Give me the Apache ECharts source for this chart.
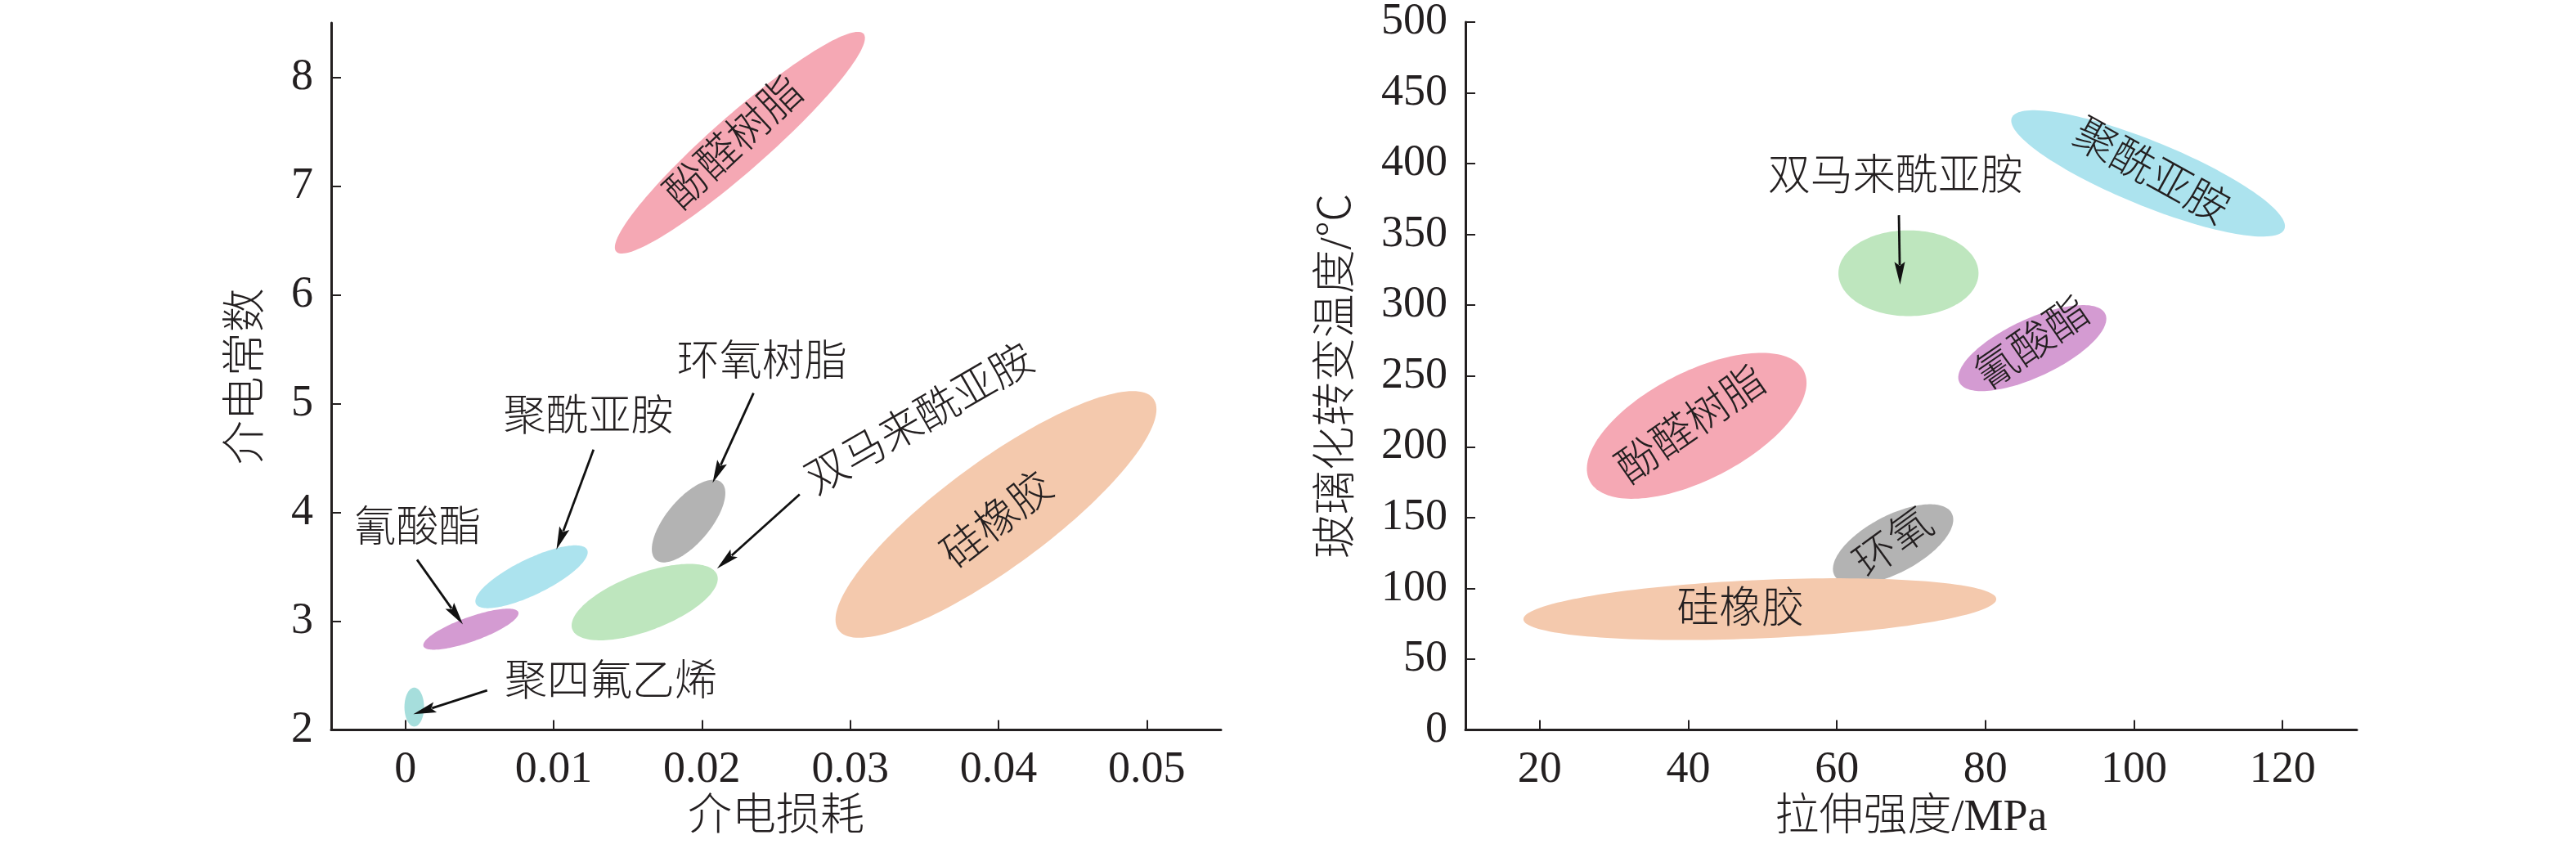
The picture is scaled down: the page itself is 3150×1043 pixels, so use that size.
<!DOCTYPE html>
<html>
<head>
<meta charset="utf-8">
<script src="https://cdn.jsdelivr.net/npm/echarts@6/dist/echarts.min.js"></script>
<style>
html,body{margin:0;padding:0;background:#fff;}
#chart{width:3150px;height:1043px;}
</style>
</head>
<body>
<div id="chart"></div>
<script>
// ---------- Left chart: dielectric loss (x) vs dielectric constant (y) ----------
const leftXTicks = [0, 0.01, 0.02, 0.03, 0.04, 0.05];
const leftYTicks = [2, 3, 4, 5, 6, 7, 8];
const leftNames   = ['酚醛树脂', '聚酰亚胺', '氰酸酯', '环氧树脂', '双马来酰亚胺', '聚四氟乙烯', '硅橡胶'];
// ellipse centre
const leftCenterX = [0.02256, 0.00851, 0.00442, 0.0191, 0.01614, 0.0006, 0.03983];
const leftCenterY = [7.399, 3.408, 2.926, 3.920, 3.175, 2.210, 3.981];
// end of major semi-axis
const leftMajorX  = [0.03090, 0.01226, 0.00762, 0.02130, 0.02102, 0.0006, 0.05044];
const leftMajorY  = [8.400, 3.656, 3.082, 4.277, 3.426, 2.389, 5.045];
// end of minor semi-axis
const leftMinorX  = [0.02132, 0.00798, 0.00415, 0.01796, 0.01546, -0.00006, 0.03770];
const leftMinorY  = [7.590, 3.556, 3.032, 4.051, 3.421, 2.210, 4.373];

// annotation labels (data coords)
const leftLabelText = ['酚醛树脂', '聚酰亚胺', '氰酸酯', '环氧树脂', '双马来酰亚胺', '聚四氟乙烯', '硅橡胶'];
const leftLabelX    = [0.02229, 0.01235, 0.00082, 0.02405, 0.03477, 0.01386, 0.04004];
const leftLabelY    = [7.381, 4.859, 3.836, 5.360, 4.834, 2.419, 3.908];
// arrows (data coords)
const leftArrowX0 = [0.01269, 0.00079, 0.02348, 0.02659, 0.00552];
const leftArrowY0 = [4.577, 3.565, 5.097, 4.166, 2.364];
const leftArrowX1 = [0.01019, 0.00388, 0.02072, 0.02102, 0.00054];
const leftArrowY1 = [3.658, 2.970, 4.271, 3.483, 2.144];

// ---------- Right chart: tensile strength (x) vs glass transition temperature (y) ----------
const rightXTicks = [20, 40, 60, 80, 100, 120];
const rightYTicks = [0, 50, 100, 150, 200, 250, 300, 350, 400, 450, 500];
const rightNames   = ['聚酰亚胺', '双马来酰亚胺', '氰酸酯', '酚醛树脂', '环氧', '硅橡胶'];
const rightCenterX = [101.90, 69.64, 86.31, 41.13, 67.57, 49.63];
const rightCenterY = [393.1, 322.6, 269.7, 214.8, 131.1, 85.3];
const rightMajorX  = [120.25, 79.07, 96.14, 55.54, 75.47, 81.46];
const rightMajorY  = [353.8, 322.6, 293.8, 253.7, 153.0, 92.5];
const rightMinorX  = [103.54, 69.64, 84.67, 37.82, 65.78, 49.46];
const rightMinorY  = [414.2, 352.9, 288.2, 248.6, 149.0, 105.9];

const rightLabelText = ['双马来酰亚胺', '聚酰亚胺', '氰酸酯', '酚醛树脂', '环氧', '硅橡胶'];
const rightLabelX    = [67.88, 102.12, 86.53, 40.58, 67.87, 47.03];
const rightLabelY    = [389.6, 392.7, 271.4, 214.1, 130.4, 83.7];
const rightArrowX0 = [68.35];
const rightArrowY0 = [363.6];
const rightArrowX1 = [68.51];
const rightArrowY1 = [314.5];

// ---------- styles ----------
const materialColor = {
  '酚醛树脂': '#F5A8B4',
  '聚酰亚胺': '#ACE3EE',
  '氰酸酯': '#D49BD2',
  '环氧树脂': '#B3B3B3',
  '环氧': '#B3B3B3',
  '双马来酰亚胺': '#BEE6BE',
  '聚四氟乙烯': '#A6DEDC',
  '硅橡胶': '#F4C9AD'
};
const leftLabelRotate  = [43, 0, 0, 0, 30, 0, 38];
const rightLabelRotate = [0, -29, 34.5, 34.8, 36, 0];

const AXIS_COLOR = '#231F20';
const FONT = '"Liberation Serif", "Noto Sans CJK SC", serif';

function zip(arrs) { return arrs[0].map((_, i) => arrs.map(a => a[i])); }

function ellipseSeries(idx, names, cx, cy, mx, my, nx, ny) {
  return {
    type: 'custom', xAxisIndex: idx, yAxisIndex: idx, clip: false, silent: true, z: 1,
    data: zip([cx, cy, mx, my, nx, ny]),
    renderItem: function (params, api) {
      const c = api.coord([api.value(0), api.value(1)]);
      const m = api.coord([api.value(2), api.value(3)]);
      const n = api.coord([api.value(4), api.value(5)]);
      const ux = m[0] - c[0], uy = m[1] - c[1], vx = n[0] - c[0], vy = n[1] - c[1];
      const pts = [];
      const N = 160;
      for (let i = 0; i < N; i++) {
        const t = i / N * Math.PI * 2;
        pts.push([c[0] + Math.cos(t) * ux + Math.sin(t) * vx, c[1] + Math.cos(t) * uy + Math.sin(t) * vy]);
      }
      return { type: 'polygon', shape: { points: pts }, style: { fill: materialColor[names[params.dataIndex]] } };
    }
  };
}

function labelSeries(idx, texts, lx, ly, rot) {
  return {
    type: 'custom', xAxisIndex: idx, yAxisIndex: idx, clip: false, silent: true, z: 3,
    data: zip([lx, ly]),
    renderItem: function (params, api) {
      const p = api.coord([api.value(0), api.value(1)]);
      return {
        type: 'text', x: p[0], y: p[1], rotation: rot[params.dataIndex] * Math.PI / 180,
        style: { text: texts[params.dataIndex], font: '300 52px ' + FONT, fill: '#231F20', align: 'center', verticalAlign: 'middle' }
      };
    }
  };
}

function arrowSeries(idx, x0, y0, x1, y1) {
  return {
    type: 'custom', xAxisIndex: idx, yAxisIndex: idx, clip: false, silent: true, z: 4,
    data: zip([x0, y0, x1, y1]),
    renderItem: function (params, api) {
      const a = api.coord([api.value(0), api.value(1)]);
      const b = api.coord([api.value(2), api.value(3)]);
      const dx = b[0] - a[0], dy = b[1] - a[1];
      const L = Math.sqrt(dx * dx + dy * dy);
      const ux = dx / L, uy = dy / L;
      const hl = 28, hw = 6.5;
      const bx = b[0] - ux * hl, by = b[1] - uy * hl;
      return {
        type: 'group',
        children: [
          { type: 'line', shape: { x1: a[0], y1: a[1], x2: bx + ux * 4, y2: by + uy * 4 }, style: { stroke: '#111', lineWidth: 2.8 } },
          { type: 'polygon', shape: { points: [[b[0], b[1]], [bx - uy * hw, by + ux * hw], [bx + ux * 5, by + uy * 5], [bx + uy * hw, by - ux * hw]] }, style: { fill: '#111' } }
        ]
      };
    }
  };
}

function valueAxis(extra) {
  return Object.assign({
    type: 'value',
    axisLine: { show: true, onZero: false, lineStyle: { color: AXIS_COLOR, width: 3 } },
    axisTick: { show: true, inside: true, length: 12, lineStyle: { color: AXIS_COLOR, width: 2 } },
    splitLine: { show: false },
    nameLocation: 'middle',
    nameTextStyle: { fontFamily: FONT, fontSize: 54, fontWeight: 300, color: '#231F20' }
  }, extra);
}

const chart = echarts.init(document.getElementById('chart'), null, { renderer: 'canvas' });
chart.setOption({
  backgroundColor: '#ffffff',
  animation: false,
  grid: [
    { left: 405, right: 3150 - 1493, top: 28, bottom: 1043 - 892.5 },
    { left: 1792, right: 3150 - 2882, top: 27, bottom: 1043 - 892.5 }
  ],
  xAxis: [
    valueAxis({
      gridIndex: 0, min: -0.005, max: 0.055, name: '介电损耗', nameGap: 80,
      axisTick: { show: true, inside: true, length: 12, customValues: leftXTicks, lineStyle: { color: AXIS_COLOR, width: 2 } },
      axisLabel: { customValues: leftXTicks, margin: 22, fontFamily: FONT, fontSize: 54, color: '#231F20', formatter: v => String(v) }
    }),
    valueAxis({
      gridIndex: 1, min: 10, max: 130, name: '拉伸强度/MPa', nameGap: 80,
      axisTick: { show: true, inside: true, length: 12, customValues: rightXTicks, lineStyle: { color: AXIS_COLOR, width: 2 } },
      axisLabel: { customValues: rightXTicks, margin: 22, fontFamily: FONT, fontSize: 54, color: '#231F20' }
    })
  ],
  yAxis: [
    valueAxis({
      gridIndex: 0, min: 2, max: 8.5, name: '介电常数', nameGap: 74,
      axisTick: { show: true, inside: true, length: 12, customValues: leftYTicks, lineStyle: { color: AXIS_COLOR, width: 2 } },
      axisLabel: { customValues: leftYTicks, margin: 22, fontFamily: FONT, fontSize: 54, color: '#231F20' }
    }),
    valueAxis({
      gridIndex: 1, min: 0, max: 500, name: '玻璃化转变温度/℃', nameGap: 128,
      axisTick: { show: true, inside: true, length: 12, customValues: rightYTicks, lineStyle: { color: AXIS_COLOR, width: 2 } },
      axisLabel: { customValues: rightYTicks, margin: 22, fontFamily: FONT, fontSize: 54, color: '#231F20' }
    })
  ],
  series: [
    ellipseSeries(0, leftNames, leftCenterX, leftCenterY, leftMajorX, leftMajorY, leftMinorX, leftMinorY),
    labelSeries(0, leftLabelText, leftLabelX, leftLabelY, leftLabelRotate),
    arrowSeries(0, leftArrowX0, leftArrowY0, leftArrowX1, leftArrowY1),
    ellipseSeries(1, rightNames, rightCenterX, rightCenterY, rightMajorX, rightMajorY, rightMinorX, rightMinorY),
    labelSeries(1, rightLabelText, rightLabelX, rightLabelY, rightLabelRotate),
    arrowSeries(1, rightArrowX0, rightArrowY0, rightArrowX1, rightArrowY1)
  ]
});
</script>
</body>
</html>
